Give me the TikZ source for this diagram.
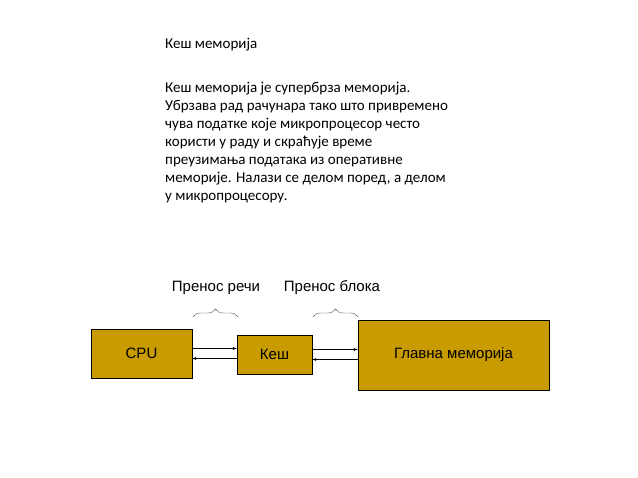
\documentclass[tikz,border=0pt]{standalone}
\usepackage{fontspec}
\setmainfont{Carlito}
\newfontfamily\arialfont{Liberation Sans}
\usetikzlibrary{decorations.pathreplacing}
\definecolor{cacheGold}{HTML}{C89B00}

\begin{document}
\begin{tikzpicture}[x = 1pt, y = -1pt]
	\tikzstyle{blockStyle} = [draw, fill = cacheGold, font = \arialfont\fontsize{15}{17}\selectfont, inner sep = 0pt]
	\tikzstyle{labelStyle} = [font = \arialfont\fontsize{15}{17}\selectfont, inner sep = 0pt]
	\tikzstyle{braceStyle} = [decorate, decoration = {brace, amplitude = 8pt}, gray!70!black]
	\useasboundingbox (0,0) rectangle (638,478);
	\node[anchor = west, inner sep = 0pt, font = \fontsize{15}{18}\selectfont] (title) at (165,45) {Кеш меморија};
	\node[anchor = north west, align = left, inner sep = 0pt, font = \fontsize{15}{18}\selectfont] (body) at (165,82) {Кеш меморија је супербрза меморија.\\Убрзава рад рачунара тако што привремено\\чува податке које микропроцесор често\\користи у раду и скраћује време\\преузимања података из оперативне\\меморије. Налази се делом поред, а делом\\у микропроцесору.};
	\node[blockStyle, minimum width = 101pt, minimum height = 49pt] (cpu) at (141.5,353.5) {CPU};
	\node[blockStyle, minimum width = 75pt, minimum height = 39pt] (kes) at (274.5,354.5) {Кеш};
	\node[blockStyle, minimum width = 191pt, minimum height = 70pt] (mem) at (453.5,355) {Главна меморија};
	\draw[-latex] ([yshift = 5pt]cpu.east) -- ([yshift = 5pt]cpu.east -| kes.west);
	\draw[latex-] ([yshift = -5pt]cpu.east) -- ([yshift = -5pt]cpu.east -| kes.west);
	\draw[-latex] ([yshift = 5pt]kes.east) -- ([yshift = 5pt]kes.east -| mem.west);
	\draw[latex-] ([yshift = -5pt]kes.east) -- ([yshift = -5pt]kes.east -| mem.west);
	\coordinate (b1a) at (193,317);
	\coordinate (b1b) at (238,317);
	\coordinate (b2a) at (313,317);
	\coordinate (b2b) at (358,317);
	\draw[braceStyle] (b1a) -- (b1b);
	\draw[braceStyle] (b2a) -- (b2b);
	\node[labelStyle] (reci) at (216,288) {Пренос речи};
	\node[labelStyle] (bloka) at (332,288) {Пренос блока};
\end{tikzpicture}
\end{document}
